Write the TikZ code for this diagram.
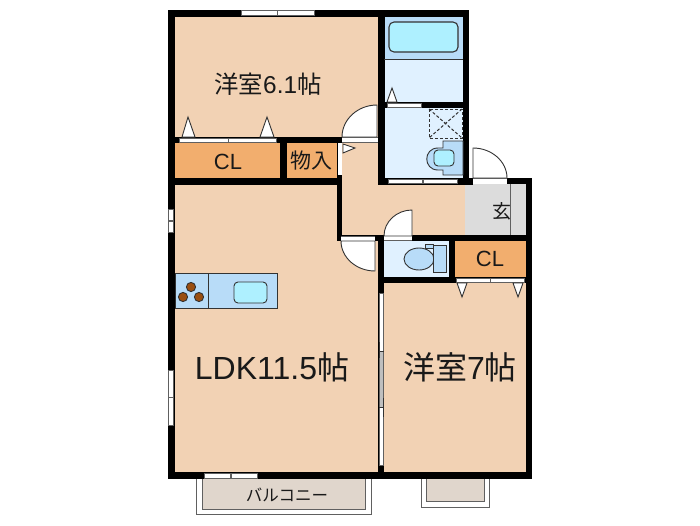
\documentclass[tikz,border=0pt]{standalone}
\usepackage{fontspec}
\setmainfont{Liberation Sans}
\newfontfamily\cjk{Noto Sans CJK JP}
\definecolor{peach}{HTML}{F2D2B4}
\definecolor{orangecl}{HTML}{F2AE6E}
\definecolor{paleblue}{HTML}{E0F1FF}
\definecolor{midblue}{HTML}{B8DCF8}
\definecolor{cyanw}{HTML}{AEF0FF}
\definecolor{entry}{HTML}{DCDCDC}
\definecolor{balc}{HTML}{E0D6CC}
\definecolor{linegray}{HTML}{606060}
\definecolor{burner}{HTML}{9A4E10}
\tikzset{
  room/.style={fill=#1,draw=none},
  wall/.style={fill=black,draw=none},
  openstrip/.style={fill=white,draw=linegray,line width=.8pt},
  fixture/.style={draw=black!80,line width=.9pt},
  doorleaf/.style={fill=white,draw=black!80,line width=.9pt},
  label/.style={inner sep=0pt,text=black!90},
}
\begin{document}
\begin{tikzpicture}[x=1pt,y=-1pt]
\useasboundingbox (0,0) rectangle (700,525);
\fill[white] (0,0) rectangle (700,525);
% balconies
\draw[fill=white,draw=linegray,line width=.9pt] (196,476) rectangle (371,514);
\draw[fill=balc,draw=linegray,line width=.9pt] (202,476) rectangle (365,509);
\draw[fill=white,draw=linegray,line width=.9pt] (421,476) rectangle (489,507);
\draw[fill=balc,draw=linegray,line width=.9pt] (426,476) rectangle (484,501);
% floors
\fill[room=peach] (175,17) rectangle (379,137);
\fill[room=peach] (175,185) -- (337,185) -- (337,241) -- (379,241) -- (379,472) -- (175,472) -- cycle;
\fill[room=peach] (342,143) -- (379,143) -- (379,185) -- (465,185) -- (465,235) -- (342,235) -- cycle;
\fill[room=peach] (384,283) rectangle (526,472);
\fill[room=orangecl] (175,143) rectangle (280,178);
\fill[room=orangecl] (287,143) rectangle (337,178);
\fill[room=orangecl] (455,241) rectangle (526,277);
\fill[room=midblue] (384,17) rectangle (463,59);
\fill[room=paleblue] (384,59) rectangle (463,102);
\fill[room=paleblue] (384,108) rectangle (463,178);
\fill[room=paleblue] (384,241) rectangle (449,277);
\fill[room=entry] (465,184) rectangle (526,235);
% walls
\fill[wall] (168,10) rectangle (469,17);
\fill[wall] (168,10) rectangle (175,479);
\fill[wall] (168,472) rectangle (532,479);
\fill[wall] (526,178) rectangle (532,479);
\fill[wall] (463,10) rectangle (469,185);
\fill[wall] (378,10) rectangle (385,185);
\fill[wall] (378,235) rectangle (384,479);
\fill[wall] (168,137) rectangle (342,143);
\fill[wall] (280,137) rectangle (287,185);
\fill[wall] (168,178) rectangle (342,185);
\fill[wall] (337,137) rectangle (342,241);
\fill[wall] (378,102) rectangle (469,108);
\fill[wall] (378,178) rectangle (473,185);
\fill[wall] (507,178) rectangle (532,184);
\fill[wall] (337,235) rectangle (526,241);
\fill[wall] (449,241) rectangle (455,283);
\fill[wall] (378,277) rectangle (532,283);
% openings
\draw[openstrip] (241,10.5) rectangle (277,15.5);
\draw[openstrip] (277,10.5) rectangle (314,15.5);
\draw[openstrip] (179,138) rectangle (228,142.5);
\draw[openstrip] (228,138) rectangle (276,142.5);
\fill[white] (342,137) rectangle (378,143);
\draw[linegray,line width=.8pt] (342,137.5) -- (378,137.5) (342,142.5) -- (378,142.5);
\fill[white] (337.5,143) rectangle (342,175);
\draw[openstrip] (387,103) rectangle (421,107.5);
\draw[openstrip] (388,179) rectangle (422,183.5);
\draw[openstrip] (423,179) rectangle (457,183.5);
\fill[white] (473,178) rectangle (507,184);
\draw[linegray,line width=.8pt] (473,178.5) -- (507,178.5);
\fill[white] (341,236) rectangle (375,241);
\draw[linegray,line width=.8pt] (341,236.5) -- (375,236.5);
\fill[white] (384,236) rectangle (412,241);
\draw[linegray,line width=.8pt] (384,240.5) -- (412,240.5);
\draw[openstrip] (456,278) rectangle (490,282.5);
\draw[openstrip] (490,278) rectangle (524,282.5);
% sliding door
\draw[openstrip] (379.2,293) rectangle (383.2,465);
\fill[black!25] (380,351) rectangle (382.6,407);
\draw[black!80,line width=1pt] (379,342) -- (379,358) (383.4,398) -- (383.4,417) (378.5,351) -- (384,351) (378.5,407) -- (384,407);
% left windows
\draw[openstrip] (168.5,209) rectangle (173.5,220);
\draw[openstrip] (168.5,221) rectangle (173.5,232);
\draw[openstrip] (168.5,370) rectangle (173.5,397);
\draw[openstrip] (168.5,397) rectangle (173.5,425);
\draw[openstrip] (204,473) rectangle (230,478);
\draw[openstrip] (231,473) rectangle (257,478);
% doors
\draw[doorleaf] (342,137) .. controls (342,119.4) and (357.75,105) .. (377,105) -- (377,137) -- cycle;
\draw[doorleaf] (473,178) -- (473,148) .. controls (491.7,148) and (507,161.5) .. (507,178) -- cycle;
\draw[doorleaf] (384,236) .. controls (384,221.7) and (396.6,210) .. (412,210) -- (412,236) -- cycle;
\draw[doorleaf] (341,241) .. controls (341,257.5) and (356.3,271) .. (375,271) -- (375,241) -- cycle;
\draw[line width=.8pt,linegray] (510,184) -- (510,235);
% closet triangles
\draw[doorleaf] (182,137) -- (188,117) -- (195,137) -- cycle;
\draw[doorleaf] (260,137) -- (267,117) -- (274,137) -- cycle;
\draw[doorleaf] (387,102) -- (392,88) -- (397,102) -- cycle;
\draw[doorleaf] (343,144) -- (355,148) -- (343,153) -- cycle;
\draw[doorleaf] (457,283) -- (462,297) -- (467,283) -- cycle;
\draw[doorleaf] (513,283) -- (518,297) -- (523,283) -- cycle;
% bath
\draw[fixture,line width=1pt] (384,59) -- (463,59);
\draw[fixture,fill=cyanw,line width=1.1pt,rounded corners=5pt] (389,22) rectangle (458,52);
% drain pan
\draw[black!80,line width=1pt,densely dashed] (429,109) rectangle (462,138);
\draw[black!80,line width=1pt,densely dashed] (429,109) -- (462,138) (462,109) -- (429,138);
% toilet upper
\draw[fixture,fill=midblue] (443,175) -- (443,170) -- (438,170) .. controls (423,170) and (423,148) .. (438,148) -- (443,148) -- (443,141) -- (463,141) -- (463,175) -- cycle;
\draw[fixture,fill=cyanw,rounded corners=4pt] (434,150) rectangle (454,166);
% toilet lower
\draw[fixture,fill=midblue] (419,259) ellipse[x radius=15,y radius=11];
\draw[fixture,fill=midblue] (433,245.5) rectangle (446,272);
\draw[fixture,fill=midblue] (425,244) rectangle (433,248);
% kitchen
\draw[fixture,fill=midblue] (175,273) rectangle (277,308);
\draw[fixture] (208,273) -- (208,308);
\foreach \cx/\cy in {191/287,183/297,199/297}
  \draw[fixture,fill=burner] (\cx,\cy) circle[radius=4.6];
\draw[fixture,fill=cyanw,rounded corners=4pt] (234,282) rectangle (267,303);
% labels
\node[label,font=\fontsize{24.4}{24.4}\selectfont] (r61) at (268,84) {{\cjk 洋室}6.1{\cjk 帖}};
\node[label,font=\fontsize{22}{22}\selectfont] (cl1) at (228,162) {CL};
\node[label,font=\cjk\fontsize{21}{21}\selectfont] (mono) at (311,161) {物入};
\node[label,font=\cjk\fontsize{19}{19}\selectfont] (gen) at (502,211) {玄};
\node[label,font=\fontsize{22}{22}\selectfont] (cl2) at (490,259) {CL};
\node[label,font=\fontsize{32}{32}\selectfont] (ldk) at (272,367) {LDK11.5{\cjk 帖}};
\node[label,font=\fontsize{32}{32}\selectfont] (r7) at (460,367) {{\cjk 洋室}7{\cjk 帖}};
\node[label,font=\cjk\fontsize{16.5}{16.5}\selectfont] (bal) at (287,495) {バルコニー};
\end{tikzpicture}
\end{document}
